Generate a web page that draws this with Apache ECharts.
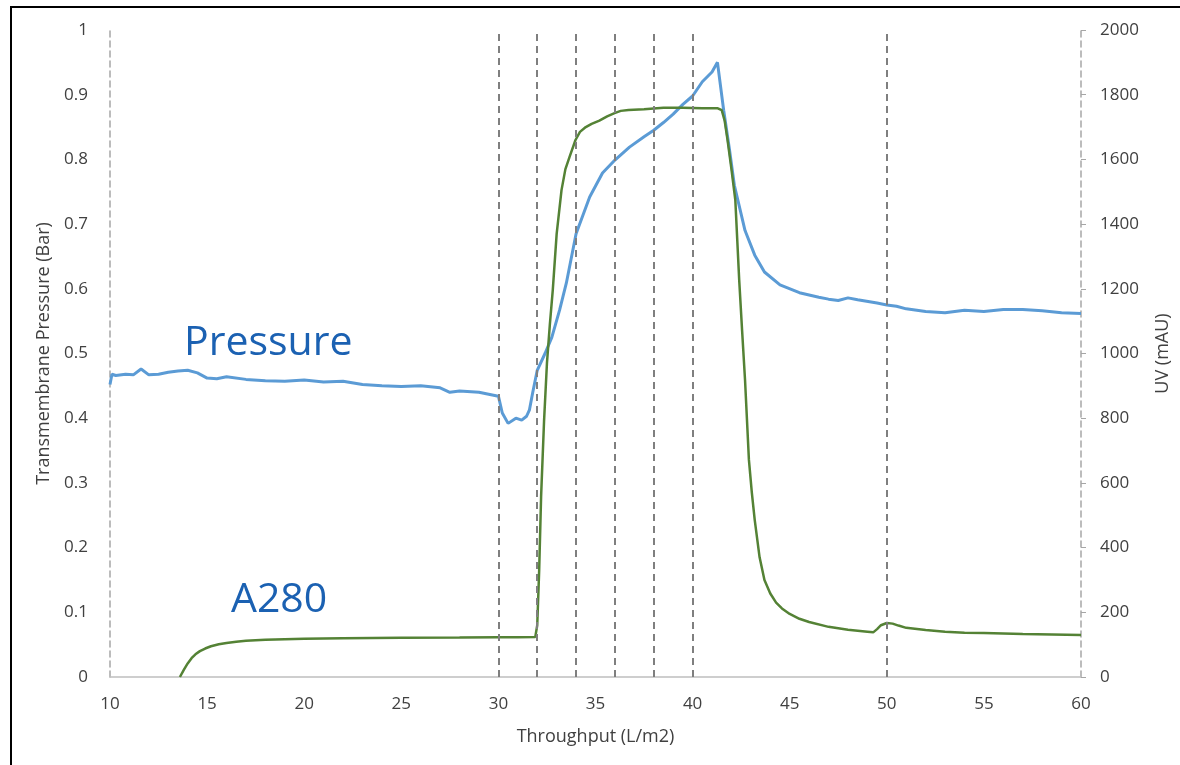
<!DOCTYPE html>
<html>
<head>
<meta charset="utf-8">
<script src="https://cdn.jsdelivr.net/npm/echarts@6/dist/echarts.min.js"></script>
<style>
html,body{margin:0;padding:0;background:#fff;}
#chart{width:1180px;height:765px;}
</style>
</head>
<body>
<div id="chart"></div>
<script>
// Throughput (L/m2) vs Transmembrane Pressure (Bar)
const pressureX = [10,10.1,10.3,10.8,11.2,11.6,12,12.5,13,13.5,14,14.5,15,15.5,16,17,18,19,20,21,22,23,24,25,26,27,27.5,28,29,29.5,30,30.2,30.5,30.9,31.2,31.45,31.6,31.77,32,32.4,32.75,33.15,33.5,34,34.7,35.36,36,36.75,37.5,38,38.5,39,39.5,40,40.5,41,41.28,41.6,41.9,42.15,42.7,43.2,43.7,44.5,45.5,46.5,47,47.5,48,48.5,49.5,50,50.5,51,52,53,54,55,56,57,58,59,60];
const pressureY = [0.452,0.468,0.466,0.468,0.467,0.476,0.467,0.468,0.471,0.473,0.474,0.470,0.462,0.461,0.464,0.460,0.458,0.457,0.459,0.456,0.457,0.452,0.450,0.449,0.450,0.447,0.440,0.442,0.440,0.437,0.434,0.408,0.392,0.400,0.397,0.403,0.413,0.440,0.474,0.500,0.525,0.567,0.609,0.685,0.742,0.779,0.799,0.819,0.835,0.845,0.857,0.870,0.885,0.898,0.920,0.935,0.950,0.876,0.815,0.760,0.690,0.652,0.626,0.606,0.594,0.587,0.584,0.582,0.586,0.583,0.578,0.575,0.573,0.569,0.565,0.563,0.567,0.565,0.568,0.568,0.566,0.563,0.562];

// Throughput (L/m2) vs UV A280 (mAU)
const a280X = [13.6,13.8,14,14.2,14.4,14.63,14.9,15.2,15.6,16,16.5,17,18,19,20,22,25,28,30,31,31.9,32,32.1,32.2,32.35,32.5,32.65,32.8,33,33.25,33.45,33.66,33.97,34.2,34.5,34.8,35.2,35.6,35.98,36.3,36.7,37.5,38.5,39.5,40.5,41.3,41.5,41.65,41.8,42,42.2,42.4,42.55,42.7,42.9,43.05,43.2,43.45,43.7,44,44.3,44.6,45,45.5,46,47,48,49,49.3,49.5,49.7,50,50.3,50.6,51,52,53,54,55,57,60];
const a280Y = [0,22,42,58,70,80,88,95,101,105,109,112,115,117,118,120,121,122,123,123,124,160,330,560,790,970,1090,1196,1370,1505,1570,1607,1660,1685,1700,1710,1720,1733,1743,1750,1753,1755,1760,1760,1758,1758,1752,1720,1660,1570,1474,1227,1070,918,671,570,485,370,300,258,230,212,195,180,170,155,146,140,138,148,160,167,165,159,152,145,140,137,136,133,130];

// Vertical reference lines (L/m2)
const markerX = [30,32,34,36,38,40,50];

const xTicks = {min:10, max:60, interval:5};
const leftTicks = {min:0, max:1, interval:0.1};
const rightTicks = {min:0, max:2000, interval:200};

const pressureData = pressureX.map((x,i)=>[x,pressureY[i]]);
const a280Data = a280X.map((x,i)=>[x,a280Y[i]]);

const FONT = "'Open Sans', 'Noto Sans', sans-serif";
const tickStyle = {color:'#404040', fontSize:17, fontFamily:FONT};
const nameStyle = {color:'#404040', fontSize:18, fontFamily:FONT};

const chart = echarts.init(document.getElementById('chart'), null, {renderer:'canvas'});
chart.setOption({
  animation:false,
  backgroundColor:'#ffffff',
  grid:{left:110, right:98, top:30, bottom:88, containLabel:false},
  graphic:[
    {type:'rect', shape:{x:11, y:7, width:1250, height:850}, style:{fill:'none', stroke:'#000', lineWidth:2}, z:100},
    {type:'text', left:184, top:323, style:{text:'Pressure', fill:'#1b61b2', font:"41px 'Open Sans', sans-serif"}, z:100},
    {type:'text', left:231, top:580, style:{text:'A280', fill:'#1b61b2', font:"41px 'Open Sans', sans-serif"}, z:100}
  ],
  xAxis:{
    type:'value', min:xTicks.min, max:xTicks.max, interval:xTicks.interval,
    name:'Throughput (L/m2)', nameLocation:'middle', nameGap:51,
    nameTextStyle:nameStyle,
    axisLine:{show:true, onZero:false, lineStyle:{color:'#bfbfbf', width:1.5}},
    axisTick:{show:false},
    axisLabel:Object.assign({margin:19}, tickStyle),
    splitLine:{show:false}
  },
  yAxis:[
    {
      type:'value', position:'left', min:leftTicks.min, max:leftTicks.max, interval:leftTicks.interval,
      name:'Transmembrane Pressure (Bar)', nameLocation:'middle', nameGap:55,
      nameTextStyle:nameStyle,
      axisLine:{show:true, lineStyle:{color:'#a6a6a6', width:1.5, type:[6,4]}},
      axisTick:{show:false},
      axisLabel:Object.assign({margin:22, formatter:v=>String(+v.toFixed(1))}, tickStyle),
      splitLine:{show:false}
    },
    {
      type:'value', position:'right', min:rightTicks.min, max:rightTicks.max, interval:rightTicks.interval,
      name:'UV (mAU)', nameLocation:'middle', nameGap:73,
      nameTextStyle:nameStyle,
      axisLine:{show:true, lineStyle:{color:'#a6a6a6', width:1.5, type:[6,4]}},
      axisTick:{show:true, length:5, lineStyle:{color:'#a6a6a6'}},
      axisLabel:Object.assign({margin:19, formatter:v=>String(v)}, tickStyle),
      splitLine:{show:false}
    }
  ],
  series:[
    {
      name:'A280', type:'line', yAxisIndex:1, data:a280Data,
      showSymbol:false, smooth:false,
      lineStyle:{color:'#548235', width:2.5},
      z:3,
      markLine:{
        silent:true, symbol:['none','none'], label:{show:false},
        lineStyle:{color:'#7f7f7f', width:2, type:[7,5]},
        data:markerX.map(x=>({xAxis:x}))
      }
    },
    {
      name:'Pressure', type:'line', yAxisIndex:0, data:pressureData,
      showSymbol:false, smooth:false,
      lineStyle:{color:'#5b9bd5', width:3},
      z:2
    }
  ]
});
</script>
</body>
</html>
